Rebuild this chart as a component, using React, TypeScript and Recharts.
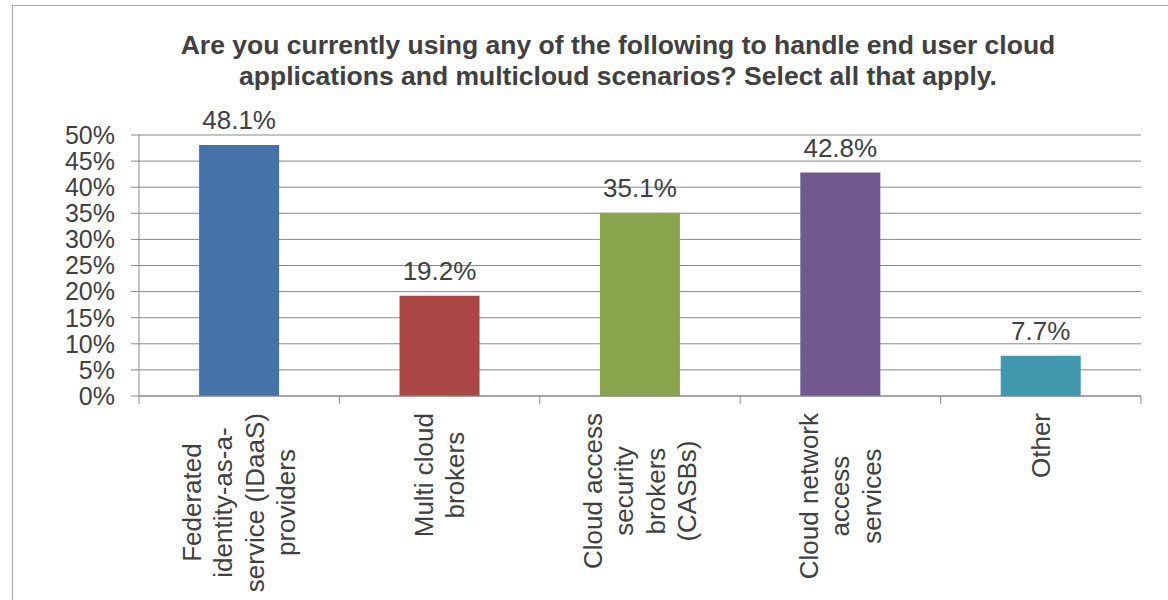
import React from 'react';
import { BarChart, Bar, XAxis, YAxis, CartesianGrid, Cell, LabelList } from 'recharts';

const categories = [
  'Federated identity-as-a-service (IDaaS) providers',
  'Multi cloud brokers',
  'Cloud access security brokers (CASBs)',
  'Cloud network access services',
  'Other',
];
const categoryLines = [
  ['Federated', 'identity-as-a-', 'service (IDaaS)', 'providers'],
  ['Multi cloud', 'brokers'],
  ['Cloud access', 'security', 'brokers', '(CASBs)'],
  ['Cloud network', 'access', 'services'],
  ['Other'],
];
const values = [48.1, 19.2, 35.1, 42.8, 7.7];
const colors = ['#4572A7', '#AA4643', '#89A54E', '#71588F', '#4198AF'];
const yTicks = [0, 5, 10, 15, 20, 25, 30, 35, 40, 45, 50];
const titleLines = [
  'Are you currently using any of the following to handle end user cloud',
  'applications and multicloud scenarios? Select all that apply.',
];

const data = categories.map((name, i) => ({ name, value: values[i] }));

const FONT = '"Liberation Sans", Arial, sans-serif';
const TEXT = '#404040';
const LINE = '#888888';
const FS = 26;

let ctx: CanvasRenderingContext2D | null = null;
function measure(text: string, size: number): number {
  if (!ctx) ctx = document.createElement('canvas').getContext('2d');
  if (!ctx) return text.length * size * 0.5;
  ctx.font = `${size}px ${FONT}`;
  return ctx.measureText(text).width;
}

const XTick = (props: any) => {
  const { x, y, payload, index } = props;
  const half = payload && typeof payload.offset === 'number' && payload.offset > 0 ? payload.offset : 100.2;
  const lines = categoryLines[index] ?? [String(payload?.value ?? '')];
  const maxW = Math.max(...lines.map((l) => measure(l, FS)));
  const top = y + 17;
  const lh = 31.5;
  const n = lines.length;
  return (
    <g>
      <line x1={x - half} x2={x - half} y1={y} y2={y + 8} stroke={LINE} strokeWidth={1} />
      {index === categories.length - 1 && (
        <line x1={x + half} x2={x + half} y1={y} y2={y + 8} stroke={LINE} strokeWidth={1} />
      )}
      <g transform={`translate(${x},${top + maxW / 2}) rotate(-90)`}>
        {lines.map((l, i) => (
          <text
            key={i}
            x={0}
            y={(i - (n - 1) / 2) * lh}
            textAnchor="middle"
            dominantBaseline="central"
            fontSize={FS}
            fontFamily={FONT}
            fill={TEXT}
          >
            {l}
          </text>
        ))}
      </g>
    </g>
  );
};

export default function App() {
  return (
    <div style={{ position: 'absolute', left: 0, top: 0, width: 1168, height: 600, background: '#fff', overflow: 'hidden', fontFamily: FONT }}>
      <div
        style={{
          position: 'absolute',
          left: 12,
          top: 5,
          width: 1200,
          height: 640,
          borderLeft: '1px solid #a6a6a6',
          borderTop: '1px solid #a6a6a6',
        }}
      />
      <div
        style={{
          position: 'absolute',
          left: 118,
          top: 30,
          width: 1000,
          textAlign: 'center',
          fontWeight: 'bold',
          fontSize: 26.5,
          lineHeight: '31px',
          color: TEXT,
          fontFamily: FONT,
        }}
      >
        {titleLines.map((t, i) => (
          <div key={i} style={{ whiteSpace: 'nowrap' }}>{t}</div>
        ))}
      </div>
      <div style={{ position: 'absolute', left: 0, top: 0 }}>
        <BarChart
          width={1168}
          height={600}
          data={data}
          margin={{ top: 135, right: 27, bottom: 0, left: 0 }}
          barCategoryGap="30%"
        >
          <CartesianGrid vertical={false} stroke={LINE} strokeWidth={1} />
          <XAxis
            dataKey="name"
            height={204}
            interval={0}
            tickLine={false}
            tickSize={0}
            tickMargin={0}
            axisLine={{ stroke: LINE }}
            tick={<XTick />}
          />
          <YAxis
            width={139}
            domain={[0, 50]}
            ticks={yTicks}
            interval={0}
            tickFormatter={(v: number) => `${v}%`}
            tickSize={8}
            tickMargin={16}
            axisLine={{ stroke: LINE }}
            tickLine={{ stroke: LINE }}
            tick={{ fontSize: 25, fill: TEXT, fontFamily: FONT }}
          />
          <Bar dataKey="value" isAnimationActive={false}>
            {data.map((d, i) => (
              <Cell key={d.name} fill={colors[i]} />
            ))}
            <LabelList
              dataKey="value"
              position="top"
              offset={16}
              formatter={(v: any) => `${v}%`}
              fill={TEXT}
              fontSize={FS}
              fontFamily={FONT}
            />
          </Bar>
        </BarChart>
      </div>
    </div>
  );
}
